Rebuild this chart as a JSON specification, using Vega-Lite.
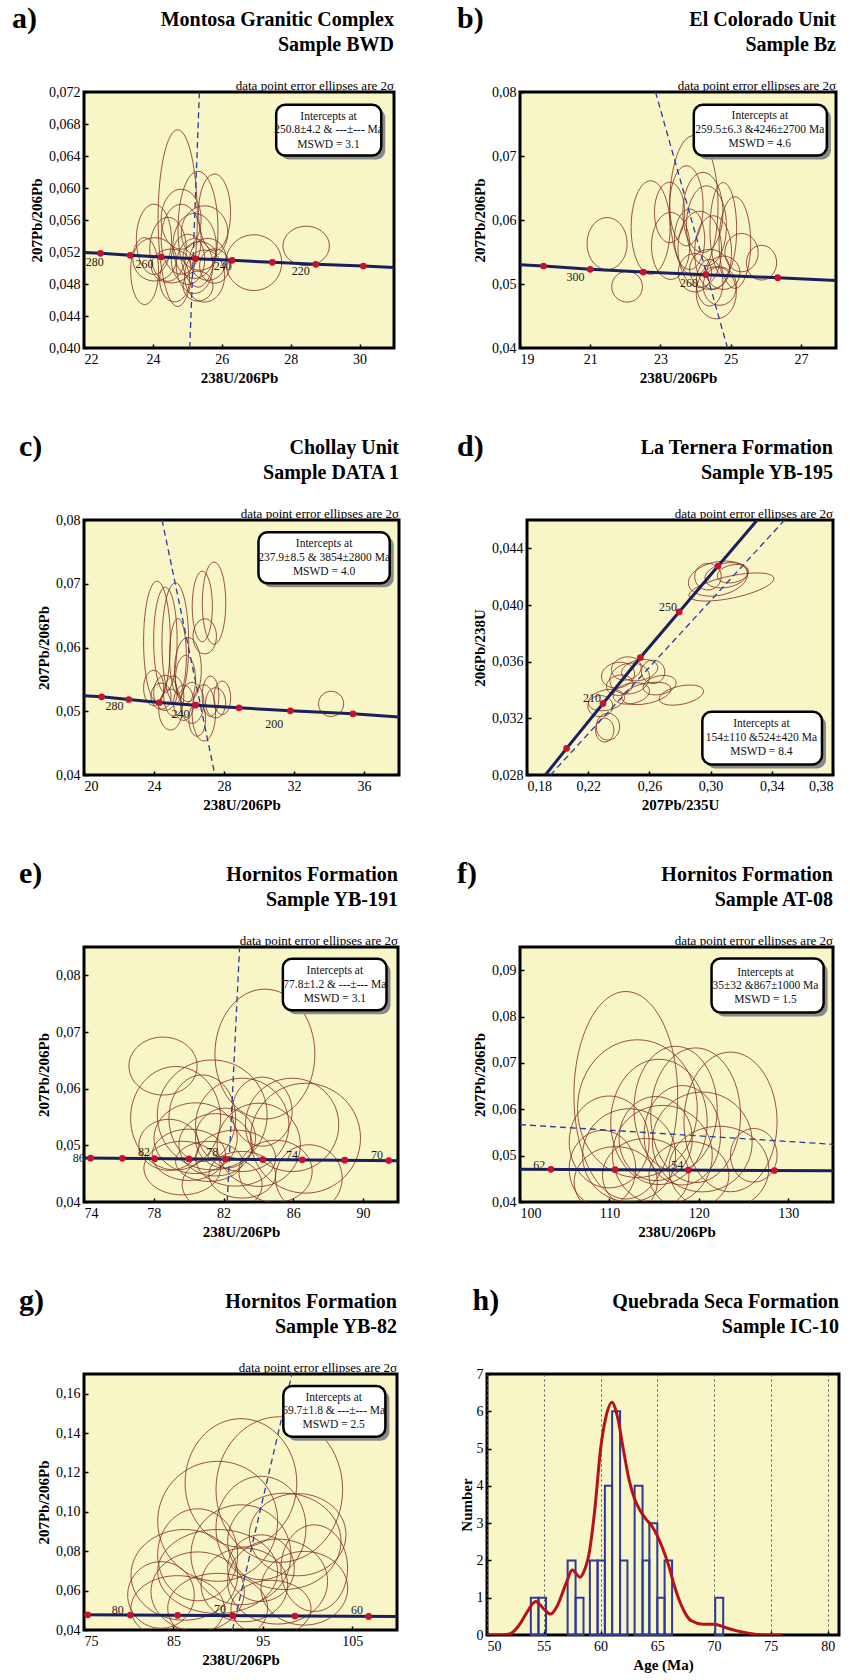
{
"$schema": "https://vega.github.io/schema/vega-lite/v6.json",
"background": "white",
"padding": {"left": 12, "top": 3, "right": 5, "bottom": 5},
"columns": 2,
"spacing": {"row": 44, "column": 56},
"align": {"row": "each", "column": "none"},
"resolve": {"scale": {"size": "independent"}},
"datasets": {
"a_ell": [{"x":24.72,"y":0.05623,"w":1.14,"aspect":"4.5"},{"x":25.31,"y":0.05485,"w":1.16,"aspect":"2.9"},{"x":25.79,"y":0.05694,"w":0.93,"aspect":"2.4"},{"x":24.03,"y":0.05359,"w":1.02,"aspect":"2"},{"x":26.93,"y":0.05067,"w":1.62,"aspect":"1"},{"x":28.45,"y":0.05276,"w":1.35,"aspect":"0.85"},{"x":23.76,"y":0.04962,"w":0.81,"aspect":"2.4"},{"x":25.21,"y":0.05276,"w":1.26,"aspect":"1.5"},{"x":25.5,"y":0.04899,"w":1.16,"aspect":"1.3"},{"x":24.05,"y":0.05108,"w":1.26,"aspect":"1"},{"x":24.44,"y":0.05234,"w":1.06,"aspect":"1.75"},{"x":24.82,"y":0.05359,"w":1.16,"aspect":"1.75"},{"x":25.21,"y":0.05025,"w":1.06,"aspect":"1.5"},{"x":25.6,"y":0.05108,"w":1.06,"aspect":"1.15"},{"x":25.02,"y":0.05108,"w":0.97,"aspect":"1.5"},{"x":24.53,"y":0.05025,"w":1.16,"aspect":"0.85"},{"x":25.79,"y":0.05025,"w":0.87,"aspect":"1.15"},{"x":25.36,"y":0.0515,"w":0.97,"aspect":"0.85"},{"x":24.82,"y":0.0561,"w":1.16,"aspect":"1.5"},{"x":25.5,"y":0.05443,"w":1.35,"aspect":"1.15"},{"x":24.63,"y":0.04857,"w":0.87,"aspect":"1.5"},{"x":25.31,"y":0.04774,"w":0.87,"aspect":"1"}],
"a_conc": [{"x":22,"y":0.05194},{"x":22.48,"y":0.05184},{"x":23.34,"y":0.05159},{"x":24.24,"y":0.05138},{"x":25.23,"y":0.05117},{"x":26.3,"y":0.05096},{"x":27.47,"y":0.05071},{"x":28.73,"y":0.05046},{"x":30.11,"y":0.05025},{"x":31,"y":0.05006}],
"a_dots": [{"x":22.48,"y":0.05184},{"x":23.34,"y":0.05159},{"x":24.24,"y":0.05138},{"x":25.23,"y":0.05117},{"x":26.3,"y":0.05096},{"x":27.47,"y":0.05071},{"x":28.73,"y":0.05046},{"x":30.11,"y":0.05025}],
"a_lab": [{"x":22.31,"y":0.05075,"label":"280"},{"x":23.76,"y":0.05046,"label":"260"},{"x":26.03,"y":0.05025,"label":"240"},{"x":28.29,"y":0.04962,"label":"220"}],
"a_dis": [{"x":25.35,"y":0.072},{"x":25.07,"y":0.04}],
"a_box": [{"x1":27.58,"x2":30.63,"y1":0.07041,"y2":0.06405}],
"a_txt": [{"x":29.1,"y":0.06886,"t":"Intercepts at"},{"x":29.1,"y":0.06719,"t":"250.8±4.2  & ---±--- Ma"},{"x":29.1,"y":0.06543,"t":"MSWD = 3.1"}],
"b_ell": [{"x":21.48,"y":0.05631,"w":1.14,"aspect":"1.3"},{"x":22.05,"y":0.04957,"w":0.875,"aspect":"1"},{"x":22.72,"y":0.05882,"w":1.11,"aspect":"2.4"},{"x":23.95,"y":0.06222,"w":1.38,"aspect":"2.9"},{"x":23.26,"y":0.06118,"w":0.86,"aspect":"2"},{"x":23.74,"y":0.06222,"w":0.95,"aspect":"2.4"},{"x":23.29,"y":0.05595,"w":1.09,"aspect":"1.75"},{"x":24.31,"y":0.05908,"w":1.14,"aspect":"2"},{"x":24.79,"y":0.05856,"w":0.76,"aspect":"3.5"},{"x":25.12,"y":0.05647,"w":0.9,"aspect":"2.9"},{"x":24.5,"y":0.0549,"w":1.05,"aspect":"2"},{"x":24.12,"y":0.05542,"w":1.24,"aspect":"1.75"},{"x":23.98,"y":0.05176,"w":0.95,"aspect":"1.15"},{"x":24.4,"y":0.05229,"w":1.14,"aspect":"1"},{"x":24.59,"y":0.04863,"w":1.14,"aspect":"1.3"},{"x":24.69,"y":0.04967,"w":0.95,"aspect":"1.15"},{"x":25.31,"y":0.0549,"w":0.95,"aspect":"1.15"},{"x":25.88,"y":0.05333,"w":0.86,"aspect":"1.15"},{"x":24.4,"y":0.0502,"w":0.76,"aspect":"1.75"},{"x":24.79,"y":0.05176,"w":0.95,"aspect":"1"},{"x":23.83,"y":0.05699,"w":0.86,"aspect":"2"},{"x":24.21,"y":0.06118,"w":1.14,"aspect":"2"}],
"b_conc": [{"x":19,"y":0.05299},{"x":19.67,"y":0.05281},{"x":21.0,"y":0.05229},{"x":22.51,"y":0.05187},{"x":24.29,"y":0.05145},{"x":26.34,"y":0.05098},{"x":28,"y":0.05053}],
"b_dots": [{"x":19.67,"y":0.05281},{"x":21.0,"y":0.05229},{"x":22.51,"y":0.05187},{"x":24.29,"y":0.05145},{"x":26.34,"y":0.05098}],
"b_lab": [{"x":20.58,"y":0.05114,"label":"300"},{"x":23.81,"y":0.05009,"label":"260"}],
"b_dis": [{"x":22.86,"y":0.08},{"x":24.91,"y":0.04}],
"b_box": [{"x1":23.95,"x2":27.74,"y1":0.07801,"y2":0.07006}],
"b_txt": [{"x":25.83,"y":0.07618,"t":"Intercepts at"},{"x":25.83,"y":0.07409,"t":"259.5±6.3  &4246±2700 Ma"},{"x":25.83,"y":0.07184,"t":"MSWD = 4.6"}],
"c_ell": [{"x":24.17,"y":0.06096,"w":1.53,"aspect":"4.5"},{"x":24.65,"y":0.06118,"w":1.34,"aspect":"4.5"},{"x":25.22,"y":0.0607,"w":1.53,"aspect":"4.5"},{"x":26.76,"y":0.06644,"w":1.15,"aspect":"3.5"},{"x":27.43,"y":0.06696,"w":1.34,"aspect":"3.5"},{"x":26.9,"y":0.06175,"w":1.34,"aspect":"1.5"},{"x":25.37,"y":0.05862,"w":0.96,"aspect":"4.5"},{"x":25.94,"y":0.05653,"w":1.53,"aspect":"2.4"},{"x":23.98,"y":0.05366,"w":1.15,"aspect":"1.75"},{"x":25.13,"y":0.05239,"w":1.15,"aspect":"2"},{"x":25.8,"y":0.05497,"w":1.15,"aspect":"2.4"},{"x":24.65,"y":0.05288,"w":1.34,"aspect":"1.5"},{"x":26.18,"y":0.05132,"w":1.34,"aspect":"1.75"},{"x":26.85,"y":0.04975,"w":1.34,"aspect":"2.4"},{"x":27.23,"y":0.05236,"w":0.96,"aspect":"2.4"},{"x":27.9,"y":0.0521,"w":0.96,"aspect":"2"},{"x":27.52,"y":0.05132,"w":1.15,"aspect":"1.5"},{"x":34.12,"y":0.05116,"w":1.44,"aspect":"1"},{"x":24.94,"y":0.05027,"w":1.34,"aspect":"1.75"},{"x":25.7,"y":0.05132,"w":1.15,"aspect":"1.75"},{"x":26.47,"y":0.04871,"w":0.96,"aspect":"2"},{"x":24.4,"y":0.05236,"w":1.15,"aspect":"1.3"}],
"c_conc": [{"x":20,"y":0.05245},{"x":21.01,"y":0.05226},{"x":22.56,"y":0.05184},{"x":24.31,"y":0.05137},{"x":26.37,"y":0.05095},{"x":28.86,"y":0.05053},{"x":31.79,"y":0.05007},{"x":35.37,"y":0.0496},{"x":38,"y":0.04911}],
"c_dots": [{"x":21.01,"y":0.05226},{"x":22.56,"y":0.05184},{"x":24.31,"y":0.05137},{"x":26.37,"y":0.05095},{"x":28.86,"y":0.05053},{"x":31.79,"y":0.05007},{"x":35.37,"y":0.0496}],
"c_lab": [{"x":21.74,"y":0.0509,"label":"280"},{"x":25.51,"y":0.0496,"label":"240"},{"x":30.87,"y":0.04806,"label":"200"}],
"c_dis": [{"x":24.46,"y":0.08},{"x":27.48,"y":0.04}],
"c_box": [{"x1":29.97,"x2":37.47,"y1":0.07807,"y2":0.07009}],
"c_txt": [{"x":33.72,"y":0.07625,"t":"Intercepts at"},{"x":33.72,"y":0.074,"t":"237.9±8.5  & 3854±2800 Ma"},{"x":33.72,"y":0.07181,"t":"MSWD = 4.0"}],
"d_ell": [{"x":0.3136,"y":0.04127,"w":0.0566,"aspect":"t0.25"},{"x":0.3048,"y":0.04186,"w":0.0392,"aspect":"t0.55"},{"x":0.3103,"y":0.0421,"w":0.0283,"aspect":"t0.55"},{"x":0.2983,"y":0.042,"w":0.0174,"aspect":"1"},{"x":0.3146,"y":0.04221,"w":0.0207,"aspect":"t0.55"},{"x":0.2809,"y":0.03364,"w":0.0294,"aspect":"t0.4"},{"x":0.258,"y":0.03376,"w":0.0327,"aspect":"t0.4"},{"x":0.2471,"y":0.03481,"w":0.0261,"aspect":"t0.75"},{"x":0.2449,"y":0.03552,"w":0.0196,"aspect":"t0.75"},{"x":0.2536,"y":0.0354,"w":0.024,"aspect":"t0.55"},{"x":0.2624,"y":0.03528,"w":0.0153,"aspect":"1"},{"x":0.2319,"y":0.03329,"w":0.024,"aspect":"t0.55"},{"x":0.2279,"y":0.03286,"w":0.0163,"aspect":"0.85"},{"x":0.2329,"y":0.03141,"w":0.0153,"aspect":"1.15"},{"x":0.2308,"y":0.03117,"w":0.012,"aspect":"1.3"},{"x":0.2406,"y":0.03434,"w":0.0174,"aspect":"t0.75"},{"x":0.2667,"y":0.03434,"w":0.0218,"aspect":"t0.55"},{"x":0.2482,"y":0.03376,"w":0.024,"aspect":"t0.55"},{"x":0.2395,"y":0.03505,"w":0.0218,"aspect":"t0.75"}],
"d_conc": [{"x":0.192,"y":0.028},{"x":0.2059,"y":0.02988},{"x":0.2297,"y":0.03305},{"x":0.2541,"y":0.03629},{"x":0.2794,"y":0.03951},{"x":0.3049,"y":0.04275},{"x":0.3305,"y":0.046}],
"d_dots": [{"x":0.2059,"y":0.02988},{"x":0.2297,"y":0.03305},{"x":0.2541,"y":0.03629},{"x":0.2794,"y":0.03951},{"x":0.3049,"y":0.04275}],
"d_lab": [{"x":0.2225,"y":0.03345,"label":"210"},{"x":0.2721,"y":0.03987,"label":"250"}],
"d_dis": [{"x":0.1953,"y":0.028},{"x":0.3484,"y":0.046}],
"d_box": [{"x1":0.2946,"x2":0.3728,"y1":0.03246,"y2":0.02875}],
"d_txt": [{"x":0.3332,"y":0.03157,"t":"Intercepts at"},{"x":0.3332,"y":0.03058,"t":"154±110  &524±420 Ma"},{"x":0.3332,"y":0.0296,"t":"MSWD = 8.4"}],
"e_ell": [{"x":84.37,"y":0.0661,"w":5.73,"aspect":"1.3"},{"x":78.53,"y":0.06399,"w":3.91,"aspect":"0.85"},{"x":79.25,"y":0.05478,"w":5.16,"aspect":"1.15"},{"x":81.35,"y":0.05537,"w":6.3,"aspect":"1"},{"x":83.07,"y":0.05361,"w":5.35,"aspect":"1"},{"x":85.93,"y":0.05361,"w":5.35,"aspect":"1"},{"x":86.7,"y":0.05126,"w":6.3,"aspect":"1"},{"x":84.02,"y":0.05009,"w":4.77,"aspect":"1"},{"x":80.4,"y":0.05126,"w":4.77,"aspect":"0.85"},{"x":81.54,"y":0.05009,"w":4.2,"aspect":"0.85"},{"x":80.01,"y":0.04833,"w":4.2,"aspect":"0.7"},{"x":82.69,"y":0.04774,"w":4.58,"aspect":"0.7"},{"x":81.16,"y":0.04716,"w":3.82,"aspect":"0.6"},{"x":79.63,"y":0.04598,"w":4.39,"aspect":"0.7"},{"x":83.07,"y":0.04481,"w":3.82,"aspect":"0.7"},{"x":84.98,"y":0.0454,"w":4.2,"aspect":"0.85"},{"x":82.11,"y":0.05126,"w":3.44,"aspect":"1"},{"x":80.78,"y":0.05478,"w":3.82,"aspect":"1.3"},{"x":86.89,"y":0.04422,"w":3.82,"aspect":"1"},{"x":84.21,"y":0.05595,"w":3.44,"aspect":"1.15"},{"x":78.87,"y":0.05009,"w":3.44,"aspect":"0.85"},{"x":81.92,"y":0.04305,"w":4.58,"aspect":"0.7"}],
"e_conc": [{"x":74,"y":0.04775},{"x":92,"y":0.04728}],
"e_dots": [{"x":74.38,"y":0.04774},{"x":76.2,"y":0.0477},{"x":78.05,"y":0.04765},{"x":80.02,"y":0.0476},{"x":82.11,"y":0.04755},{"x":84.25,"y":0.04749},{"x":86.51,"y":0.04744},{"x":88.95,"y":0.04738},{"x":91.47,"y":0.04731}],
"e_lab": [{"x":73.7,"y":0.0478,"label":"86"},{"x":77.44,"y":0.0488,"label":"82"},{"x":81.35,"y":0.0488,"label":"78"},{"x":85.93,"y":0.04833,"label":"74"},{"x":90.8,"y":0.04833,"label":"70"}],
"e_dis": [{"x":82.92,"y":0.085},{"x":82.21,"y":0.04}],
"e_box": [{"x1":85.4,"x2":91.34,"y1":0.08293,"y2":0.07384}],
"e_txt": [{"x":88.38,"y":0.08076,"t":"Intercepts at"},{"x":88.38,"y":0.07824,"t":"77.8±1.2  & ---±--- Ma"},{"x":88.38,"y":0.07578,"t":"MSWD = 3.1"}],
"f_ell": [{"x":111.83,"y":0.06302,"w":11.6,"aspect":"2"},{"x":113.13,"y":0.06014,"w":13.39,"aspect":"1.15"},{"x":119.64,"y":0.05871,"w":10.04,"aspect":"1.5"},{"x":123.54,"y":0.05727,"w":10.41,"aspect":"1.5"},{"x":117.4,"y":0.06014,"w":9.3,"aspect":"1.5"},{"x":115.54,"y":0.05727,"w":10.78,"aspect":"1.3"},{"x":109.97,"y":0.05295,"w":8.93,"aspect":"1.15"},{"x":112.2,"y":0.05007,"w":10.41,"aspect":"1"},{"x":115.92,"y":0.05007,"w":11.16,"aspect":"1"},{"x":120.38,"y":0.05295,"w":11.16,"aspect":"1"},{"x":126.14,"y":0.05007,"w":5.21,"aspect":"1.15"},{"x":109.22,"y":0.04719,"w":7.44,"aspect":"1.15"},{"x":114.06,"y":0.04576,"w":9.67,"aspect":"0.85"},{"x":118.89,"y":0.04576,"w":8.93,"aspect":"0.85"},{"x":122.24,"y":0.04719,"w":11.16,"aspect":"0.85"},{"x":115.17,"y":0.05367,"w":8.18,"aspect":"1.15"},{"x":118.15,"y":0.05439,"w":8.55,"aspect":"1.3"},{"x":110.71,"y":0.04432,"w":9.3,"aspect":"0.85"}],
"f_conc": [{"x":100,"y":0.04708},{"x":135,"y":0.04672}],
"f_dots": [{"x":103.46,"y":0.04704},{"x":110.64,"y":0.04697},{"x":118.82,"y":0.04689},{"x":128.45,"y":0.04679}],
"f_lab": [{"x":102.16,"y":0.04791,"label":"62"},{"x":117.59,"y":0.04791,"label":"54"}],
"f_dis": [{"x":100,"y":0.05669},{"x":135,"y":0.05245}],
"f_box": [{"x1":121.42,"x2":133.95,"y1":0.09252,"y2":0.08086}],
"f_txt": [{"x":127.45,"y":0.0895,"t":"Intercepts at"},{"x":127.45,"y":0.08662,"t":"35±32  &867±1000 Ma"},{"x":127.45,"y":0.08367,"t":"MSWD = 1.5"}],
"g_ell": [{"x":92.55,"y":0.1147,"w":12.49,"aspect":"1.15"},{"x":96.84,"y":0.1113,"w":14.16,"aspect":"1.15"},{"x":89.95,"y":0.0952,"w":13.42,"aspect":"1"},{"x":94.79,"y":0.0918,"w":10.06,"aspect":"1.15"},{"x":97.4,"y":0.085,"w":12.67,"aspect":"0.85"},{"x":98.89,"y":0.0884,"w":10.81,"aspect":"0.85"},{"x":86.22,"y":0.068,"w":11.93,"aspect":"0.85"},{"x":89.95,"y":0.0697,"w":13.42,"aspect":"0.7"},{"x":92.93,"y":0.0629,"w":9.69,"aspect":"0.85"},{"x":96.65,"y":0.0646,"w":11.18,"aspect":"0.85"},{"x":87.71,"y":0.0595,"w":10.44,"aspect":"0.85"},{"x":83.61,"y":0.0578,"w":7.45,"aspect":"1"},{"x":99.64,"y":0.0612,"w":9.69,"aspect":"0.85"},{"x":92.55,"y":0.0782,"w":11.18,"aspect":"1"},{"x":94.79,"y":0.0714,"w":7.45,"aspect":"1"},{"x":89.95,"y":0.051,"w":11.18,"aspect":"0.7"},{"x":100.75,"y":0.0714,"w":7.45,"aspect":"1.3"},{"x":85.47,"y":0.051,"w":10.44,"aspect":"0.7"},{"x":95.91,"y":0.051,"w":8.95,"aspect":"0.7"},{"x":87.71,"y":0.0782,"w":8.95,"aspect":"1.15"}],
"g_conc": [{"x":75,"y":0.0477},{"x":110,"y":0.0468}],
"g_dots": [{"x":75.41,"y":0.0477},{"x":80.18,"y":0.04757},{"x":85.47,"y":0.04743},{"x":91.62,"y":0.04727},{"x":98.59,"y":0.04709},{"x":106.83,"y":0.04688}],
"g_lab": [{"x":78.76,"y":0.0504,"label":"80"},{"x":90.2,"y":0.0509,"label":"70"},{"x":105.52,"y":0.0504,"label":"60"}],
"g_dis": [{"x":91.6,"y":0.04},{"x":98.25,"y":0.17}],
"g_box": [{"x1":97.29,"x2":108.7,"y1":0.1639,"y2":0.1381}],
"g_txt": [{"x":102.92,"y":0.158,"t":"Intercepts at"},{"x":102.92,"y":0.1512,"t":"69.7±1.8  & ---±--- Ma"},{"x":102.92,"y":0.1439,"t":"MSWD = 2.5"}],
"h_bars": [{"lo":53.86,"hi":54.53,"n":1},{"lo":54.53,"hi":55.2,"n":1},{"lo":57.1,"hi":57.8,"n":2},{"lo":57.8,"hi":58.5,"n":1},{"lo":59.06,"hi":59.74,"n":2},{"lo":59.74,"hi":60.38,"n":2},{"lo":60.38,"hi":61.02,"n":4},{"lo":61.02,"hi":61.72,"n":6},{"lo":61.72,"hi":62.37,"n":2},{"lo":63.0,"hi":63.7,"n":4},{"lo":63.7,"hi":64.3,"n":2},{"lo":64.3,"hi":65.0,"n":3},{"lo":65.0,"hi":65.64,"n":1},{"lo":65.64,"hi":66.3,"n":2},{"lo":70.1,"hi":70.8,"n":1}],
"h_kde": [{"age":50,"p":0},{"age":51,"p":0},{"age":52,"p":0.03},{"age":53,"p":0.34},{"age":53.5,"p":0.6},{"age":54.3,"p":0.9},{"age":55,"p":0.7},{"age":55.6,"p":0.56},{"age":56.2,"p":0.79},{"age":57,"p":1.41},{"age":57.5,"p":1.74},{"age":58.2,"p":1.55},{"age":58.5,"p":1.68},{"age":59,"p":2.2},{"age":59.5,"p":3.38},{"age":60,"p":4.98},{"age":60.5,"p":5.88},{"age":61,"p":6.24},{"age":61.5,"p":5.84},{"age":62,"p":4.99},{"age":62.5,"p":4.18},{"age":63,"p":3.65},{"age":63.5,"p":3.33},{"age":64,"p":3.11},{"age":64.5,"p":2.93},{"age":65,"p":2.66},{"age":65.5,"p":2.3},{"age":66,"p":1.86},{"age":66.5,"p":1.32},{"age":67,"p":0.88},{"age":67.5,"p":0.56},{"age":68,"p":0.38},{"age":69,"p":0.29},{"age":70,"p":0.29},{"age":71,"p":0.2},{"age":72,"p":0.11},{"age":73,"p":0.05},{"age":74,"p":0.01},{"age":75,"p":0},{"age":76,"p":0}]
},
"concat": [
{"title": {"text": "a)", "anchor": "start", "frame": "bounds", "fontSize": 30, "dx": -16, "dy": 25, "offset": 0},
 "vconcat": [{"width": 310, "height": 256,
  "title": {"text": ["Montosa Granitic Complex", "Sample BWD"], "subtitle": "data point error ellipses are 2σ", "offset": -8},
  "layer": [
   {"data": {"name": "a_ell"}, "mark": {"type": "point", "filled": false, "color": "#7d2a22", "strokeWidth": 0.8, "opacity": 1, "clip": true},
    "encoding": {"x": {"field": "x", "type": "quantitative", "title": "238U/206Pb", "scale": {"domain": [22, 31], "nice": false, "zero": false}, "axis": {"values": [22, 24, 26, 28, 30], "tickCount": 20, "format": "d"}},
     "y": {"field": "y", "type": "quantitative", "title": "207Pb/206Pb", "scale": {"domain": [0.04, 0.072], "nice": false, "zero": false}, "axis": {"values": [0.04, 0.044, 0.048, 0.052, 0.056, 0.06, 0.064, 0.068, 0.072], "tickCount": 20, "labelExpr": "replace(format(datum.value,'.3f'),'.',',')"}},
     "size": {"field": "w", "type": "quantitative", "scale": {"type": "pow", "exponent": 2, "domain": [0, 9], "range": [0, 96100]}, "legend": null},
     "shape": {"field": "aspect", "type": "nominal", "scale": {"domain": ["0.5","0.6","0.7","0.85","1","1.15","1.3","1.5","1.75","2","2.4","2.9","3.5","4.5","t0.25","t0.4","t0.55","t0.75"]}, "legend": null}}},
   {"data": {"name": "a_dis"}, "mark": {"type": "line", "color": "#2b3c9e", "strokeWidth": 1.3, "strokeDash": [6, 4], "clip": true}, "encoding": {"x": {"field": "x", "type": "quantitative"}, "y": {"field": "y", "type": "quantitative"}}},
   {"data": {"name": "a_conc"}, "mark": {"type": "line", "color": "#1b1f5e", "strokeWidth": 3, "clip": true}, "encoding": {"x": {"field": "x", "type": "quantitative"}, "y": {"field": "y", "type": "quantitative"}}},
   {"data": {"name": "a_dots"}, "mark": {"type": "circle", "color": "#c4122f", "size": 45, "opacity": 1}, "encoding": {"x": {"field": "x", "type": "quantitative"}, "y": {"field": "y", "type": "quantitative"}}},
   {"data": {"name": "a_lab"}, "mark": {"type": "text", "fontSize": 12, "color": "#222"}, "encoding": {"x": {"field": "x", "type": "quantitative"}, "y": {"field": "y", "type": "quantitative"}, "text": {"field": "label"}}},
   {"data": {"name": "a_box"}, "mark": {"type": "rect", "color": "#8a8a8a", "cornerRadius": 9, "xOffset": 4, "x2Offset": 4, "yOffset": 4, "y2Offset": 4}, "encoding": {"x": {"field": "x1", "type": "quantitative"}, "x2": {"field": "x2"}, "y": {"field": "y1", "type": "quantitative"}, "y2": {"field": "y2"}}},
   {"data": {"name": "a_box"}, "mark": {"type": "rect", "fill": "white", "stroke": "black", "strokeWidth": 2.5, "cornerRadius": 9}, "encoding": {"x": {"field": "x1", "type": "quantitative"}, "x2": {"field": "x2"}, "y": {"field": "y1", "type": "quantitative"}, "y2": {"field": "y2"}}},
   {"data": {"name": "a_txt"}, "mark": {"type": "text", "fontSize": 11.5, "color": "#111"}, "encoding": {"x": {"field": "x", "type": "quantitative"}, "y": {"field": "y", "type": "quantitative"}, "text": {"field": "t"}}}
  ]}]},
{"title": {"text": "b)", "anchor": "start", "frame": "bounds", "fontSize": 30, "dx": -14, "dy": 25, "offset": 0},
 "vconcat": [{"width": 316, "height": 256,
  "title": {"text": ["El Colorado Unit", "Sample Bz"], "subtitle": "data point error ellipses are 2σ", "offset": -8},
  "layer": [
   {"data": {"name": "b_ell"}, "mark": {"type": "point", "filled": false, "color": "#7d2a22", "strokeWidth": 0.8, "opacity": 1, "clip": true},
    "encoding": {"x": {"field": "x", "type": "quantitative", "title": "238U/206Pb", "scale": {"domain": [19, 28], "nice": false, "zero": false}, "axis": {"values": [19, 21, 23, 25, 27], "tickCount": 20, "format": "d"}},
     "y": {"field": "y", "type": "quantitative", "title": "207Pb/206Pb", "scale": {"domain": [0.04, 0.08], "nice": false, "zero": false}, "axis": {"values": [0.04, 0.05, 0.06, 0.07, 0.08], "tickCount": 20, "labelExpr": "replace(format(datum.value,'.2f'),'.',',')"}},
     "size": {"field": "w", "type": "quantitative", "scale": {"type": "pow", "exponent": 2, "domain": [0, 9], "range": [0, 99856]}, "legend": null},
     "shape": {"field": "aspect", "type": "nominal", "scale": {"domain": ["0.5","0.6","0.7","0.85","1","1.15","1.3","1.5","1.75","2","2.4","2.9","3.5","4.5","t0.25","t0.4","t0.55","t0.75"]}, "legend": null}}},
   {"data": {"name": "b_dis"}, "mark": {"type": "line", "color": "#2b3c9e", "strokeWidth": 1.3, "strokeDash": [6, 4], "clip": true}, "encoding": {"x": {"field": "x", "type": "quantitative"}, "y": {"field": "y", "type": "quantitative"}}},
   {"data": {"name": "b_conc"}, "mark": {"type": "line", "color": "#1b1f5e", "strokeWidth": 3, "clip": true}, "encoding": {"x": {"field": "x", "type": "quantitative"}, "y": {"field": "y", "type": "quantitative"}}},
   {"data": {"name": "b_dots"}, "mark": {"type": "circle", "color": "#c4122f", "size": 45, "opacity": 1}, "encoding": {"x": {"field": "x", "type": "quantitative"}, "y": {"field": "y", "type": "quantitative"}}},
   {"data": {"name": "b_lab"}, "mark": {"type": "text", "fontSize": 12, "color": "#222"}, "encoding": {"x": {"field": "x", "type": "quantitative"}, "y": {"field": "y", "type": "quantitative"}, "text": {"field": "label"}}},
   {"data": {"name": "b_box"}, "mark": {"type": "rect", "color": "#8a8a8a", "cornerRadius": 9, "xOffset": 4, "x2Offset": 4, "yOffset": 4, "y2Offset": 4}, "encoding": {"x": {"field": "x1", "type": "quantitative"}, "x2": {"field": "x2"}, "y": {"field": "y1", "type": "quantitative"}, "y2": {"field": "y2"}}},
   {"data": {"name": "b_box"}, "mark": {"type": "rect", "fill": "white", "stroke": "black", "strokeWidth": 2.5, "cornerRadius": 9}, "encoding": {"x": {"field": "x1", "type": "quantitative"}, "x2": {"field": "x2"}, "y": {"field": "y1", "type": "quantitative"}, "y2": {"field": "y2"}}},
   {"data": {"name": "b_txt"}, "mark": {"type": "text", "fontSize": 11.5, "color": "#111"}, "encoding": {"x": {"field": "x", "type": "quantitative"}, "y": {"field": "y", "type": "quantitative"}, "text": {"field": "t"}}}
  ]}]},
{"title": {"text": "c)", "anchor": "start", "frame": "bounds", "fontSize": 30, "dx": -16, "dy": 25, "offset": 0},
 "vconcat": [{"width": 315, "height": 255,
  "title": {"text": ["Chollay Unit", "Sample DATA 1"], "subtitle": "data point error ellipses are 2σ", "offset": -8},
  "layer": [
   {"data": {"name": "c_ell"}, "mark": {"type": "point", "filled": false, "color": "#7d2a22", "strokeWidth": 0.8, "opacity": 1, "clip": true},
    "encoding": {"x": {"field": "x", "type": "quantitative", "title": "238U/206Pb", "scale": {"domain": [20, 38], "nice": false, "zero": false}, "axis": {"values": [20, 24, 28, 32, 36], "tickCount": 20, "format": "d"}},
     "y": {"field": "y", "type": "quantitative", "title": "207Pb/206Pb", "scale": {"domain": [0.04, 0.08], "nice": false, "zero": false}, "axis": {"values": [0.04, 0.05, 0.06, 0.07, 0.08], "tickCount": 20, "labelExpr": "replace(format(datum.value,'.2f'),'.',',')"}},
     "size": {"field": "w", "type": "quantitative", "scale": {"type": "pow", "exponent": 2, "domain": [0, 18], "range": [0, 99225]}, "legend": null},
     "shape": {"field": "aspect", "type": "nominal", "scale": {"domain": ["0.5","0.6","0.7","0.85","1","1.15","1.3","1.5","1.75","2","2.4","2.9","3.5","4.5","t0.25","t0.4","t0.55","t0.75"]}, "legend": null}}},
   {"data": {"name": "c_dis"}, "mark": {"type": "line", "color": "#2b3c9e", "strokeWidth": 1.3, "strokeDash": [6, 4], "clip": true}, "encoding": {"x": {"field": "x", "type": "quantitative"}, "y": {"field": "y", "type": "quantitative"}}},
   {"data": {"name": "c_conc"}, "mark": {"type": "line", "color": "#1b1f5e", "strokeWidth": 3, "clip": true}, "encoding": {"x": {"field": "x", "type": "quantitative"}, "y": {"field": "y", "type": "quantitative"}}},
   {"data": {"name": "c_dots"}, "mark": {"type": "circle", "color": "#c4122f", "size": 45, "opacity": 1}, "encoding": {"x": {"field": "x", "type": "quantitative"}, "y": {"field": "y", "type": "quantitative"}}},
   {"data": {"name": "c_lab"}, "mark": {"type": "text", "fontSize": 12, "color": "#222"}, "encoding": {"x": {"field": "x", "type": "quantitative"}, "y": {"field": "y", "type": "quantitative"}, "text": {"field": "label"}}},
   {"data": {"name": "c_box"}, "mark": {"type": "rect", "color": "#8a8a8a", "cornerRadius": 9, "xOffset": 4, "x2Offset": 4, "yOffset": 4, "y2Offset": 4}, "encoding": {"x": {"field": "x1", "type": "quantitative"}, "x2": {"field": "x2"}, "y": {"field": "y1", "type": "quantitative"}, "y2": {"field": "y2"}}},
   {"data": {"name": "c_box"}, "mark": {"type": "rect", "fill": "white", "stroke": "black", "strokeWidth": 2.5, "cornerRadius": 9}, "encoding": {"x": {"field": "x1", "type": "quantitative"}, "x2": {"field": "x2"}, "y": {"field": "y1", "type": "quantitative"}, "y2": {"field": "y2"}}},
   {"data": {"name": "c_txt"}, "mark": {"type": "text", "fontSize": 11.5, "color": "#111"}, "encoding": {"x": {"field": "x", "type": "quantitative"}, "y": {"field": "y", "type": "quantitative"}, "text": {"field": "t"}}}
  ]}]},
{"title": {"text": "d)", "anchor": "start", "frame": "bounds", "fontSize": 30, "dx": -14, "dy": 25, "offset": 0},
 "vconcat": [{"width": 306, "height": 255,
  "title": {"text": ["La Ternera Formation", "Sample YB-195"], "subtitle": "data point error ellipses are 2σ", "offset": -1},
  "layer": [
   {"data": {"name": "d_ell"}, "mark": {"type": "point", "filled": false, "color": "#7d2a22", "strokeWidth": 0.8, "opacity": 1, "clip": true},
    "encoding": {"x": {"field": "x", "type": "quantitative", "title": "207Pb/235U", "scale": {"domain": [0.18, 0.38], "nice": false, "zero": false}, "axis": {"values": [0.18, 0.22, 0.26, 0.30, 0.34, 0.38], "tickCount": 20, "labelExpr": "replace(format(datum.value,'.2f'),'.',',')"}},
     "y": {"field": "y", "type": "quantitative", "title": "206Pb/238U", "scale": {"domain": [0.028, 0.046], "nice": false, "zero": false}, "axis": {"values": [0.028, 0.032, 0.036, 0.04, 0.044], "tickCount": 20, "labelExpr": "replace(format(datum.value,'.3f'),'.',',')"}},
     "size": {"field": "w", "type": "quantitative", "scale": {"type": "pow", "exponent": 2, "domain": [0, 0.2], "range": [0, 93636]}, "legend": null},
     "shape": {"field": "aspect", "type": "nominal", "scale": {"domain": ["0.5","0.6","0.7","0.85","1","1.15","1.3","1.5","1.75","2","2.4","2.9","3.5","4.5","t0.25","t0.4","t0.55","t0.75"]}, "legend": null}}},
   {"data": {"name": "d_dis"}, "mark": {"type": "line", "color": "#2b3c9e", "strokeWidth": 1.3, "strokeDash": [6, 4], "clip": true}, "encoding": {"x": {"field": "x", "type": "quantitative"}, "y": {"field": "y", "type": "quantitative"}}},
   {"data": {"name": "d_conc"}, "mark": {"type": "line", "color": "#1b1f5e", "strokeWidth": 3, "clip": true}, "encoding": {"x": {"field": "x", "type": "quantitative"}, "y": {"field": "y", "type": "quantitative"}}},
   {"data": {"name": "d_dots"}, "mark": {"type": "circle", "color": "#c4122f", "size": 45, "opacity": 1}, "encoding": {"x": {"field": "x", "type": "quantitative"}, "y": {"field": "y", "type": "quantitative"}}},
   {"data": {"name": "d_lab"}, "mark": {"type": "text", "fontSize": 12, "color": "#222"}, "encoding": {"x": {"field": "x", "type": "quantitative"}, "y": {"field": "y", "type": "quantitative"}, "text": {"field": "label"}}},
   {"data": {"name": "d_box"}, "mark": {"type": "rect", "color": "#8a8a8a", "cornerRadius": 9, "xOffset": 4, "x2Offset": 4, "yOffset": 4, "y2Offset": 4}, "encoding": {"x": {"field": "x1", "type": "quantitative"}, "x2": {"field": "x2"}, "y": {"field": "y1", "type": "quantitative"}, "y2": {"field": "y2"}}},
   {"data": {"name": "d_box"}, "mark": {"type": "rect", "fill": "white", "stroke": "black", "strokeWidth": 2.5, "cornerRadius": 9}, "encoding": {"x": {"field": "x1", "type": "quantitative"}, "x2": {"field": "x2"}, "y": {"field": "y1", "type": "quantitative"}, "y2": {"field": "y2"}}},
   {"data": {"name": "d_txt"}, "mark": {"type": "text", "fontSize": 11.5, "color": "#111"}, "encoding": {"x": {"field": "x", "type": "quantitative"}, "y": {"field": "y", "type": "quantitative"}, "text": {"field": "t"}}}
  ]}]},
{"title": {"text": "e)", "anchor": "start", "frame": "bounds", "fontSize": 30, "dx": -16, "dy": 25, "offset": 0},
 "vconcat": [{"width": 314, "height": 255,
  "title": {"text": ["Hornitos Formation", "Sample YB-191"], "subtitle": "data point error ellipses are 2σ", "offset": -1},
  "layer": [
   {"data": {"name": "e_ell"}, "mark": {"type": "point", "filled": false, "color": "#7d2a22", "strokeWidth": 0.8, "opacity": 1, "clip": true},
    "encoding": {"x": {"field": "x", "type": "quantitative", "title": "238U/206Pb", "scale": {"domain": [74, 92], "nice": false, "zero": false}, "axis": {"values": [74, 78, 82, 86, 90], "tickCount": 20, "format": "d"}},
     "y": {"field": "y", "type": "quantitative", "title": "207Pb/206Pb", "scale": {"domain": [0.04, 0.085], "nice": false, "zero": false}, "axis": {"values": [0.04, 0.05, 0.06, 0.07, 0.08], "tickCount": 20, "labelExpr": "replace(format(datum.value,'.2f'),'.',',')"}},
     "size": {"field": "w", "type": "quantitative", "scale": {"type": "pow", "exponent": 2, "domain": [0, 18], "range": [0, 98596]}, "legend": null},
     "shape": {"field": "aspect", "type": "nominal", "scale": {"domain": ["0.5","0.6","0.7","0.85","1","1.15","1.3","1.5","1.75","2","2.4","2.9","3.5","4.5","t0.25","t0.4","t0.55","t0.75"]}, "legend": null}}},
   {"data": {"name": "e_dis"}, "mark": {"type": "line", "color": "#2b3c9e", "strokeWidth": 1.3, "strokeDash": [6, 4], "clip": true}, "encoding": {"x": {"field": "x", "type": "quantitative"}, "y": {"field": "y", "type": "quantitative"}}},
   {"data": {"name": "e_conc"}, "mark": {"type": "line", "color": "#1b1f5e", "strokeWidth": 3, "clip": true}, "encoding": {"x": {"field": "x", "type": "quantitative"}, "y": {"field": "y", "type": "quantitative"}}},
   {"data": {"name": "e_dots"}, "mark": {"type": "circle", "color": "#c4122f", "size": 45, "opacity": 1}, "encoding": {"x": {"field": "x", "type": "quantitative"}, "y": {"field": "y", "type": "quantitative"}}},
   {"data": {"name": "e_lab"}, "mark": {"type": "text", "fontSize": 12, "color": "#222"}, "encoding": {"x": {"field": "x", "type": "quantitative"}, "y": {"field": "y", "type": "quantitative"}, "text": {"field": "label"}}},
   {"data": {"name": "e_box"}, "mark": {"type": "rect", "color": "#8a8a8a", "cornerRadius": 9, "xOffset": 4, "x2Offset": 4, "yOffset": 4, "y2Offset": 4}, "encoding": {"x": {"field": "x1", "type": "quantitative"}, "x2": {"field": "x2"}, "y": {"field": "y1", "type": "quantitative"}, "y2": {"field": "y2"}}},
   {"data": {"name": "e_box"}, "mark": {"type": "rect", "fill": "white", "stroke": "black", "strokeWidth": 2.5, "cornerRadius": 9}, "encoding": {"x": {"field": "x1", "type": "quantitative"}, "x2": {"field": "x2"}, "y": {"field": "y1", "type": "quantitative"}, "y2": {"field": "y2"}}},
   {"data": {"name": "e_txt"}, "mark": {"type": "text", "fontSize": 11.5, "color": "#111"}, "encoding": {"x": {"field": "x", "type": "quantitative"}, "y": {"field": "y", "type": "quantitative"}, "text": {"field": "t"}}}
  ]}]},
{"title": {"text": "f)", "anchor": "start", "frame": "bounds", "fontSize": 30, "dx": -14, "dy": 25, "offset": 0},
 "vconcat": [{"width": 313, "height": 255,
  "title": {"text": ["Hornitos Formation", "Sample AT-08"], "subtitle": "data point error ellipses are 2σ", "offset": -1},
  "layer": [
   {"data": {"name": "f_ell"}, "mark": {"type": "point", "filled": false, "color": "#7d2a22", "strokeWidth": 0.8, "opacity": 1, "clip": true},
    "encoding": {"x": {"field": "x", "type": "quantitative", "title": "238U/206Pb", "scale": {"domain": [100, 135], "nice": false, "zero": false}, "axis": {"values": [100, 110, 120, 130], "tickCount": 20, "format": "d"}},
     "y": {"field": "y", "type": "quantitative", "title": "207Pb/206Pb", "scale": {"domain": [0.04, 0.095], "nice": false, "zero": false}, "axis": {"values": [0.04, 0.05, 0.06, 0.07, 0.08, 0.09], "tickCount": 20, "labelExpr": "replace(format(datum.value,'.2f'),'.',',')"}},
     "size": {"field": "w", "type": "quantitative", "scale": {"type": "pow", "exponent": 2, "domain": [0, 35], "range": [0, 97969]}, "legend": null},
     "shape": {"field": "aspect", "type": "nominal", "scale": {"domain": ["0.5","0.6","0.7","0.85","1","1.15","1.3","1.5","1.75","2","2.4","2.9","3.5","4.5","t0.25","t0.4","t0.55","t0.75"]}, "legend": null}}},
   {"data": {"name": "f_dis"}, "mark": {"type": "line", "color": "#2b3c9e", "strokeWidth": 1.3, "strokeDash": [6, 4], "clip": true}, "encoding": {"x": {"field": "x", "type": "quantitative"}, "y": {"field": "y", "type": "quantitative"}}},
   {"data": {"name": "f_conc"}, "mark": {"type": "line", "color": "#1b1f5e", "strokeWidth": 3, "clip": true}, "encoding": {"x": {"field": "x", "type": "quantitative"}, "y": {"field": "y", "type": "quantitative"}}},
   {"data": {"name": "f_dots"}, "mark": {"type": "circle", "color": "#c4122f", "size": 45, "opacity": 1}, "encoding": {"x": {"field": "x", "type": "quantitative"}, "y": {"field": "y", "type": "quantitative"}}},
   {"data": {"name": "f_lab"}, "mark": {"type": "text", "fontSize": 12, "color": "#222"}, "encoding": {"x": {"field": "x", "type": "quantitative"}, "y": {"field": "y", "type": "quantitative"}, "text": {"field": "label"}}},
   {"data": {"name": "f_box"}, "mark": {"type": "rect", "color": "#8a8a8a", "cornerRadius": 9, "xOffset": 4, "x2Offset": 4, "yOffset": 4, "y2Offset": 4}, "encoding": {"x": {"field": "x1", "type": "quantitative"}, "x2": {"field": "x2"}, "y": {"field": "y1", "type": "quantitative"}, "y2": {"field": "y2"}}},
   {"data": {"name": "f_box"}, "mark": {"type": "rect", "fill": "white", "stroke": "black", "strokeWidth": 2.5, "cornerRadius": 9}, "encoding": {"x": {"field": "x1", "type": "quantitative"}, "x2": {"field": "x2"}, "y": {"field": "y1", "type": "quantitative"}, "y2": {"field": "y2"}}},
   {"data": {"name": "f_txt"}, "mark": {"type": "text", "fontSize": 11.5, "color": "#111"}, "encoding": {"x": {"field": "x", "type": "quantitative"}, "y": {"field": "y", "type": "quantitative"}, "text": {"field": "t"}}}
  ]}]},
{"title": {"text": "g)", "anchor": "start", "frame": "bounds", "fontSize": 30, "dx": -16, "dy": 25, "offset": 0},
 "vconcat": [{"width": 313, "height": 256,
  "title": {"text": ["Hornitos Formation", "Sample YB-82"], "subtitle": "data point error ellipses are 2σ", "offset": -1},
  "layer": [
   {"data": {"name": "g_ell"}, "mark": {"type": "point", "filled": false, "color": "#7d2a22", "strokeWidth": 0.8, "opacity": 1, "clip": true},
    "encoding": {"x": {"field": "x", "type": "quantitative", "title": "238U/206Pb", "scale": {"domain": [75, 110], "nice": false, "zero": false}, "axis": {"values": [75, 85, 95, 105], "tickCount": 20, "format": "d"}},
     "y": {"field": "y", "type": "quantitative", "title": "207Pb/206Pb", "scale": {"domain": [0.04, 0.17], "nice": false, "zero": false}, "axis": {"values": [0.04, 0.06, 0.08, 0.1, 0.12, 0.14, 0.16], "tickCount": 20, "labelExpr": "replace(format(datum.value,'.2f'),'.',',')"}},
     "size": {"field": "w", "type": "quantitative", "scale": {"type": "pow", "exponent": 2, "domain": [0, 35], "range": [0, 97969]}, "legend": null},
     "shape": {"field": "aspect", "type": "nominal", "scale": {"domain": ["0.5","0.6","0.7","0.85","1","1.15","1.3","1.5","1.75","2","2.4","2.9","3.5","4.5","t0.25","t0.4","t0.55","t0.75"]}, "legend": null}}},
   {"data": {"name": "g_dis"}, "mark": {"type": "line", "color": "#2b3c9e", "strokeWidth": 1.3, "strokeDash": [6, 4], "clip": true}, "encoding": {"x": {"field": "x", "type": "quantitative"}, "y": {"field": "y", "type": "quantitative"}}},
   {"data": {"name": "g_conc"}, "mark": {"type": "line", "color": "#1b1f5e", "strokeWidth": 3, "clip": true}, "encoding": {"x": {"field": "x", "type": "quantitative"}, "y": {"field": "y", "type": "quantitative"}}},
   {"data": {"name": "g_dots"}, "mark": {"type": "circle", "color": "#c4122f", "size": 45, "opacity": 1}, "encoding": {"x": {"field": "x", "type": "quantitative"}, "y": {"field": "y", "type": "quantitative"}}},
   {"data": {"name": "g_lab"}, "mark": {"type": "text", "fontSize": 12, "color": "#222"}, "encoding": {"x": {"field": "x", "type": "quantitative"}, "y": {"field": "y", "type": "quantitative"}, "text": {"field": "label"}}},
   {"data": {"name": "g_box"}, "mark": {"type": "rect", "color": "#8a8a8a", "cornerRadius": 9, "xOffset": 4, "x2Offset": 4, "yOffset": 4, "y2Offset": 4}, "encoding": {"x": {"field": "x1", "type": "quantitative"}, "x2": {"field": "x2"}, "y": {"field": "y1", "type": "quantitative"}, "y2": {"field": "y2"}}},
   {"data": {"name": "g_box"}, "mark": {"type": "rect", "fill": "white", "stroke": "black", "strokeWidth": 2.5, "cornerRadius": 9}, "encoding": {"x": {"field": "x1", "type": "quantitative"}, "x2": {"field": "x2"}, "y": {"field": "y1", "type": "quantitative"}, "y2": {"field": "y2"}}},
   {"data": {"name": "g_txt"}, "mark": {"type": "text", "fontSize": 11.5, "color": "#111"}, "encoding": {"x": {"field": "x", "type": "quantitative"}, "y": {"field": "y", "type": "quantitative"}, "text": {"field": "t"}}}
  ]}]},
{"title": {"text": "h)", "anchor": "start", "frame": "bounds", "fontSize": 30, "dx": 15, "dy": 25, "offset": 0},
 "vconcat": [{"width": 352, "height": 261,
  "title": {"text": ["Quebrada Seca Formation", "Sample IC-10"], "subtitle": " ", "offset": -8},
  "layer": [
   {"data": {"name": "h_bars"}, "mark": {"type": "rect", "fill": "#f8f5c6", "fillOpacity": 0, "stroke": "#2c3a99", "strokeWidth": 2},
    "encoding": {"x": {"field": "lo", "type": "quantitative", "title": "Age (Ma)", "scale": {"domain": [50, 81], "nice": false, "zero": false}, "axis": {"values": [50, 55, 60, 65, 70, 75, 80], "tickCount": 20, "format": "d", "grid": true, "gridDash": [2, 3], "gridColor": "#555", "gridWidth": 1}},
     "x2": {"field": "hi"},
     "y": {"field": "n", "type": "quantitative", "title": "Number", "scale": {"domain": [0, 7], "nice": false}, "axis": {"values": [0, 1, 2, 3, 4, 5, 6, 7], "tickCount": 20, "format": "d", "titlePadding": 2}},
     "y2": {"datum": 0}}},
   {"data": {"name": "h_kde"}, "mark": {"type": "line", "color": "#b5121b", "strokeWidth": 3, "interpolate": "monotone", "clip": true},
    "encoding": {"x": {"field": "age", "type": "quantitative"}, "y": {"field": "p", "type": "quantitative"}}}
  ]}]}
],
"config": {
 "font": "Liberation Serif",
 "view": {"fill": "#f8f5c6", "stroke": "#000", "strokeWidth": 3},
 "axis": {"domain": false, "grid": false, "labelFont": "Liberation Serif", "labelFontSize": 14, "labelColor": "#000", "labelOverlap": false, "titleFont": "Liberation Serif", "titleFontSize": 15, "titleFontWeight": "bold", "titleColor": "#000", "tickColor": "#000", "tickSize": -4, "tickWidth": 1.5, "labelPadding": 8},
 "title": {"font": "Liberation Serif", "fontSize": 20, "fontWeight": "bold", "color": "#000", "lineHeight": 25, "subtitleFont": "Liberation Serif", "subtitleFontSize": 13, "subtitleColor": "#000", "subtitlePadding": 25, "anchor": "end", "frame": "group"},
 "range": {"symbol": [
  "M -1 0 A 1 0.5 0 1 0 1 0 A 1 0.5 0 1 0 -1 0 Z",
  "M -1 0 A 1 0.6 0 1 0 1 0 A 1 0.6 0 1 0 -1 0 Z",
  "M -1 0 A 1 0.7 0 1 0 1 0 A 1 0.7 0 1 0 -1 0 Z",
  "M -1 0 A 1 0.85 0 1 0 1 0 A 1 0.85 0 1 0 -1 0 Z",
  "M -1 0 A 1 1 0 1 0 1 0 A 1 1 0 1 0 -1 0 Z",
  "M -1 0 A 1 1.15 0 1 0 1 0 A 1 1.15 0 1 0 -1 0 Z",
  "M -1 0 A 1 1.3 0 1 0 1 0 A 1 1.3 0 1 0 -1 0 Z",
  "M -1 0 A 1 1.5 0 1 0 1 0 A 1 1.5 0 1 0 -1 0 Z",
  "M -1 0 A 1 1.75 0 1 0 1 0 A 1 1.75 0 1 0 -1 0 Z",
  "M -1 0 A 1 2 0 1 0 1 0 A 1 2 0 1 0 -1 0 Z",
  "M -1 0 A 1 2.4 0 1 0 1 0 A 1 2.4 0 1 0 -1 0 Z",
  "M -1 0 A 1 2.9 0 1 0 1 0 A 1 2.9 0 1 0 -1 0 Z",
  "M -1 0 A 1 3.5 0 1 0 1 0 A 1 3.5 0 1 0 -1 0 Z",
  "M -1 0 A 1 4.5 0 1 0 1 0 A 1 4.5 0 1 0 -1 0 Z",
  "M -0.978 0.208 A 1 0.25 -12 1 0 0.978 -0.208 A 1 0.25 -12 1 0 -0.978 0.208 Z",
  "M -0.978 0.208 A 1 0.4 -12 1 0 0.978 -0.208 A 1 0.4 -12 1 0 -0.978 0.208 Z",
  "M -0.978 0.208 A 1 0.55 -12 1 0 0.978 -0.208 A 1 0.55 -12 1 0 -0.978 0.208 Z",
  "M -0.978 0.208 A 1 0.75 -12 1 0 0.978 -0.208 A 1 0.75 -12 1 0 -0.978 0.208 Z"
 ]}
}
}
